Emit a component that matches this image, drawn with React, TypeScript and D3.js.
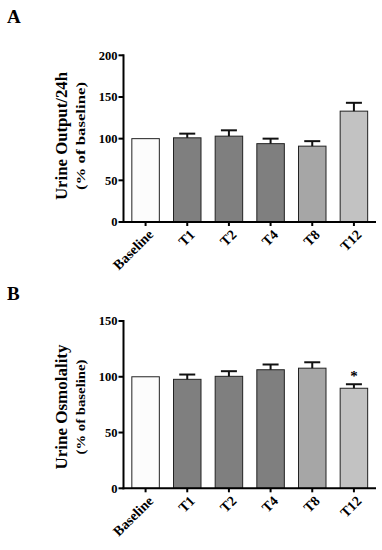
import * as d3 from "d3";

const categories = ["Baseline", "T1", "T2", "T4", "T8", "T12"];
const barColors = ["#fcfcfc", "#7f7f7f", "#7f7f7f", "#7f7f7f", "#a6a6a6", "#c2c2c2"];

// panel A: urine output / 24h
const outputMeans = [100, 101, 103, 94, 91, 133];
const outputErrTops = [100, 106, 110, 100, 97, 143];
const outputTicks = [0, 50, 100, 150, 200];

// panel B: urine osmolality
const osmoMeans = [100, 97.7, 100.4, 106.3, 107.7, 89.7];
const osmoErrTops = [100, 102, 105, 111, 113, 93.3];
const osmoTicks = [0, 50, 100, 150];
const osmoStars = ["", "", "", "", "", "*"];

const FONT = "'Liberation Serif', 'Times New Roman', serif";

type PanelProps = {
  letter: string;
  letterY: number;
  top: number;
  bottom: number;
  ticks: number[];
  means: number[];
  errs: number[];
  stars?: string[];
  title: string;
  titleLen: number;
  subLen: number;
  titleY: number;
};

function Panel(p: PanelProps) {
  const left = 123.5;
  const right = 376;
  const x = d3
    .scaleBand<string>()
    .domain(categories)
    .range([left, right])
    .paddingInner(0.34)
    .paddingOuter(0.2);
  const maxV = p.ticks[p.ticks.length - 1];
  const y = d3.scaleLinear().domain([0, maxV]).range([p.bottom, p.top]);
  const bw = x.bandwidth();
  const cap = 16;

  return (
    <g>
      <text x={7} y={p.letterY} fontFamily={FONT} fontWeight="bold" fontSize={19}>
        {p.letter}
      </text>

      {/* y titles */}
      <text
        transform={`translate(66.5,${p.titleY}) rotate(-90)`}
        textAnchor="middle"
        fontFamily={FONT}
        fontWeight="bold"
        fontSize={16}
        textLength={p.titleLen}
        lengthAdjust="spacingAndGlyphs"
      >
        {p.title}
      </text>
      <text
        transform={`translate(85,${p.titleY}) rotate(-90)`}
        textAnchor="middle"
        fontFamily={FONT}
        fontWeight="bold"
        fontSize={13}
        textLength={p.subLen}
        lengthAdjust="spacingAndGlyphs"
      >
        (% of baseline)
      </text>

      {/* bars */}
      {categories.map((c, i) => (
        <rect
          key={c}
          x={x(c)}
          y={y(p.means[i])}
          width={bw}
          height={y(0) - y(p.means[i])}
          fill={barColors[i]}
          stroke="#222"
          strokeWidth={1}
        />
      ))}

      {/* error bars (upper only) */}
      {categories.map((c, i) => {
        if (p.errs[i] <= p.means[i]) return null;
        const cx = (x(c) as number) + bw / 2;
        return (
          <g key={"e" + c} stroke="#111" strokeWidth={2}>
            <line x1={cx} x2={cx} y1={y(p.means[i])} y2={y(p.errs[i])} />
            <line x1={cx - cap / 2} x2={cx + cap / 2} y1={y(p.errs[i])} y2={y(p.errs[i])} />
          </g>
        );
      })}

      {p.stars &&
        categories.map((c, i) =>
          p.stars![i] ? (
            <text
              key={"s" + c}
              x={(x(c) as number) + bw / 2}
              y={y(p.errs[i]) - 3}
              textAnchor="middle"
              fontFamily={FONT}
              fontWeight="bold"
              fontSize={15}
            >
              {p.stars![i]}
            </text>
          ) : null
        )}

      {/* y axis */}
      <line x1={left} x2={left} y1={p.top - 1} y2={p.bottom + 1} stroke="#000" strokeWidth={2} />
      {p.ticks.map((t) => (
        <g key={"yt" + t}>
          <line x1={left - 5} x2={left} y1={y(t)} y2={y(t)} stroke="#000" strokeWidth={2} />
          <text
            x={left - 6}
            y={y(t)}
            dy="0.35em"
            textAnchor="end"
            fontFamily={FONT}
            fontWeight="bold"
            fontSize={12.5}
          >
            {t}
          </text>
        </g>
      ))}

      {/* x axis */}
      <line x1={left - 1} x2={right} y1={p.bottom} y2={p.bottom} stroke="#000" strokeWidth={2} />
      {categories.map((c) => {
        const cx = (x(c) as number) + bw / 2;
        return (
          <g key={"xt" + c}>
            <line x1={cx} x2={cx} y1={p.bottom} y2={p.bottom + 4} stroke="#000" strokeWidth={2} />
            <text
              transform={`translate(${cx + 5},${p.bottom + 10}) rotate(-45)`}
              textAnchor="end"
              dy="0.35em"
              fontFamily={FONT}
              fontWeight="bold"
              fontSize={14}
            >
              {c}
            </text>
          </g>
        );
      })}
    </g>
  );
}

export default function App() {
  return (
    <svg
      width={382}
      height={550}
      style={{ position: "absolute", left: 0, top: 0, background: "#fff" }}
    >
      <Panel
        letter="A"
        letterY={23}
        top={55.3}
        bottom={222}
        ticks={outputTicks}
        means={outputMeans}
        errs={outputErrTops}
        title="Urine Output/24h"
        titleLen={128}
        subLen={108}
        titleY={136}
      />
      <Panel
        letter="B"
        letterY={300}
        top={321}
        bottom={488.3}
        ticks={osmoTicks}
        means={osmoMeans}
        errs={osmoErrTops}
        stars={osmoStars}
        title="Urine Osmolality"
        titleLen={125}
        subLen={95}
        titleY={407}
      />
    </svg>
  );
}
